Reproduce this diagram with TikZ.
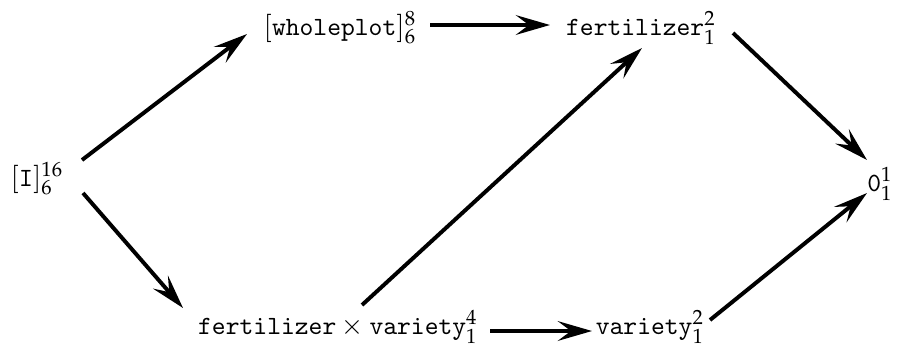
\documentclass[tikz,border=0pt]{standalone}
\usepackage{mathpazo}
\renewcommand{\ttdefault}{cmtt}
\usetikzlibrary{arrows.meta}
\tikzset{
  lbl/.style={anchor=base, inner sep=0pt, font=\fontsize{10.3}{12}\selectfont},
  arr/.style={line width=1.5pt, -{Stealth[length=13pt,width=7.5pt,inset=5pt]}}
}
\begin{document}
\begin{tikzpicture}[x=0.38pt,y=-0.38pt]
\useasboundingbox (0,0) rectangle (902,347);
\node[lbl] (I) at (37,186) {$[\mathtt{I}]^{16}_{6}$};
\node[lbl] (wp) at (340,35) {$[\mathtt{wholeplot}]^{8}_{6}$};
\node[lbl] (fert) at (641,35) {$\mathtt{fertilizer}^{2}_{1}$};
\node[lbl] (zero) at (880,191) {$\mathtt{0}^{1}_{1}$};
\node[lbl] (fxv) at (338,334) {$\mathtt{fertilizer}\times\mathtt{variety}^{4}_{1}$};
\node[lbl] (var) at (650,334) {$\mathtt{variety}^{2}_{1}$};
\draw[arr] ([shift={(45,-26)}]I.base) -- ([shift={(-93,-1)}]wp.base);
\draw[arr] ([shift={(46,7)}]I.base) -- ([shift={(-155,-26)}]fxv.base);
\draw[arr] ([shift={(90,-10)}]wp.base) -- ([shift={(-91,-10)}]fert.base);
\draw[arr] ([shift={(92,-2)}]fert.base) -- ([shift={(-13,-31)}]zero.base);
\draw[arr] ([shift={(24,-29)}]fxv.base) -- ([shift={(1,13)}]fert.base);
\draw[arr] ([shift={(152,-3)}]fxv.base) -- ([shift={(-58,-3)}]var.base);
\draw[arr] ([shift={(60,-14)}]var.base) -- ([shift={(-13,2)}]zero.base);
\end{tikzpicture}
\end{document}
